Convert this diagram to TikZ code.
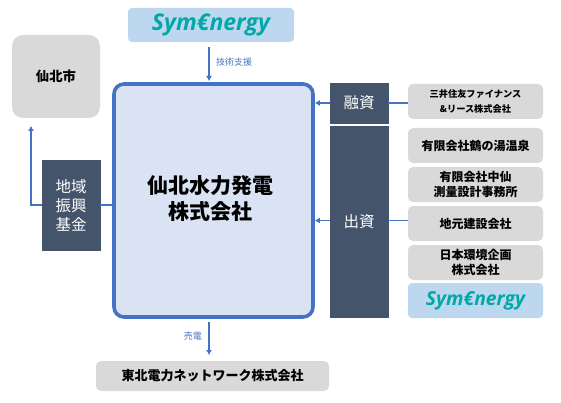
\documentclass[tikz,border=0pt]{standalone}
\usepackage{fontspec}
\setmainfont{Noto Sans CJK JP}
\newfontfamily\logofont[BoldItalicFont={Open Sans Bold Italic}]{Open Sans}
\usepackage{tikz}
\usetikzlibrary{calc, positioning, arrows.meta}
\definecolor{bluemain}{HTML}{4472C4}
\definecolor{fillmain}{HTML}{DAE3F3}
\definecolor{navybox}{HTML}{44546A}
\definecolor{greybox}{HTML}{D9D9D9}
\definecolor{logoback}{HTML}{BDD7EE}
\definecolor{logoteal}{HTML}{00A8A8}
\tikzset{
    greyround/.style={fill=greybox, rounded corners=5pt, align=center, inner sep=0pt, font=\fontsize{12}{15}\selectfont\bfseries},
    navyrect/.style={fill=navybox, draw=navybox, inner sep=0pt, align=center, text=white, font=\fontsize{15.5}{19}\selectfont},
    logobox/.style={fill=logoback, rounded corners=4pt, inner sep=0pt, text=logoteal, font=\logofont\fontsize{23}{26}\selectfont\bfseries\itshape},
    flowline/.style={draw=bluemain, line width=1.8pt},
    flowarrow/.style={flowline, -{Latex[length=5pt, width=6pt]}},
    flowlabel/.style={text=bluemain, inner sep=0pt, font=\fontsize{9}{11}\selectfont}
}
\begin{document}
\begin{tikzpicture}[x=1pt, y=-1pt]
    \useasboundingbox (0,0) rectangle (561,403);

    \node[draw=bluemain, fill=fillmain, line width=3.6pt, rounded corners=10pt, minimum width=199pt, minimum height=233pt, inner sep=0pt] (plant) at (213.5,200.5) {};
    \node[align=center, inner sep=0pt, font=\fontsize{21}{26}\selectfont\bfseries] (plantname) at (210,198.5) {仙北水力発電\\株式会社};

    \node[logobox, minimum width=166pt, minimum height=34pt] (logotop) at (211,25) {\raisebox{-3pt}{Sym€nergy}};
    \node[greyround, rounded corners=11pt, minimum width=88pt, minimum height=83pt, font=\fontsize{13.4}{16}\selectfont\bfseries] (city) at (56,76.5) {仙北市};
    \node[navyrect, minimum width=58pt, minimum height=90pt] (fund) at (71,205) {地域\\振興\\基金};
    \node[greyround, minimum width=233pt, minimum height=30pt, font=\fontsize{13}{16}\selectfont\bfseries] (grid) at (212.5,376) {東北電力ネットワーク株式会社};

    % loan and investment columns
    \node[navyrect, minimum width=58pt, minimum height=40pt] (loan) at (359,103) {融資};
    \node[navyrect, minimum width=58pt, minimum height=191pt] (equity) at (359,221.5) {出資};

    % lenders and investors
    \node[greyround, minimum width=135pt, minimum height=35pt, font=\fontsize{9.2}{14.5}\selectfont\bfseries] (lender) at (475.5,101.5) {三井住友ファイナンス\\\&リース株式会社};
    \foreach \name/\ypos/\label in {tsuru/145.5/有限会社鶴の湯温泉, nakasen/184.5/{有限会社中仙\\測量設計事務所}, jimoto/223.5/地元建設会社, nihon/262.5/{日本環境企画\\株式会社}}
        \node[greyround, minimum width=135pt, minimum height=35pt] (\name) at (475.5,\ypos) {\label};
    \node[logobox, minimum width=135pt, minimum height=35pt, font=\logofont\fontsize{19.3}{22}\selectfont\bfseries\itshape] (logoside) at (475.5,300.5) {\raisebox{-2pt}{Sym€nergy}};

    % connectors
    \coordinate (lenderend) at (lender.west |- loan.east);
    \coordinate (tsuruend) at (408,220.5);
    \coordinate (plantloan) at (plant.east |- loan.west);
    \coordinate (plantequity) at (plant.east |- tsuruend);
    \coordinate (plantfund) at (plant.west |- fund.east);
    \coordinate (citybend) at (31,205);
    \coordinate (citytip) at (31,126);
    \coordinate (logotip) at (209,81);
    \coordinate (logostart) at (209,47);
    \coordinate (gridstart) at (209,322);
    \coordinate (gridtip) at (209,355);

    \draw[flowarrow] (logostart) -- (logotip);
    \draw[flowarrow] (gridstart) -- (gridtip);
    \draw[flowarrow] (fund.west) -- (citybend) -- (citytip);
    \draw[flowline] (fund.east) -- (plantfund);
    \draw[flowarrow] (loan.west) -- (plantloan);
    \draw[flowarrow] (equity.west |- tsuruend) -- (plantequity);
    \draw[flowline] (lenderend) -- (loan.east);
    \draw[flowline] (tsuruend) -- (equity.east |- tsuruend);

    \node[flowlabel, anchor=west] (support) at (216,62) {技術支援};
    \node[flowlabel, anchor=east] (sales) at (202,336) {売電};
\end{tikzpicture}
\end{document}
